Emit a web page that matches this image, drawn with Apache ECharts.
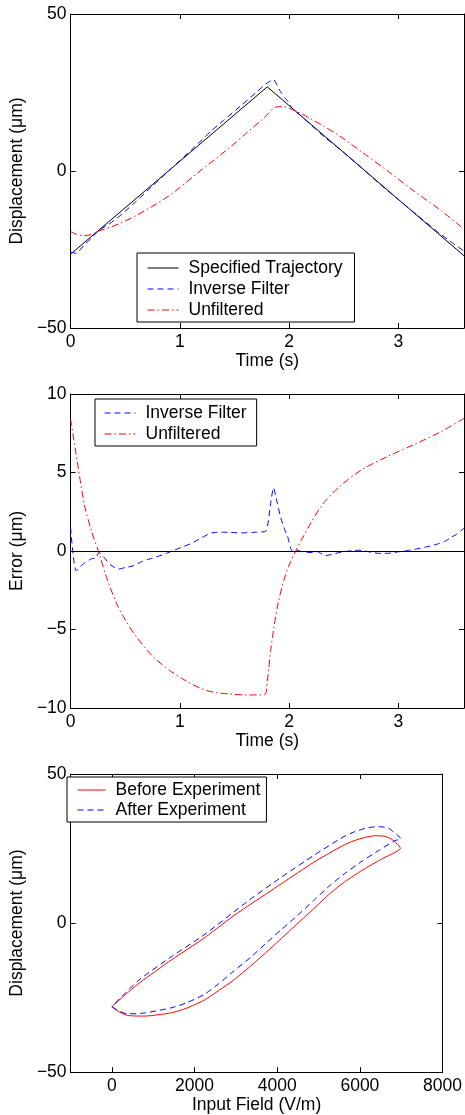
<!DOCTYPE html>
<html>
<head>
<meta charset="utf-8">
<script src="https://cdn.jsdelivr.net/npm/echarts@6/dist/echarts.min.js"></script>
<style>
html,body{margin:0;padding:0;background:#fff;}
#chart{width:465px;height:1115px;}
</style>
</head>
<body>
<div id="chart"></div>
<script>
// ---------- tick labels ----------
const timeTicks = [0, 1, 2, 3];
const dispTicks = [-50, 0, 50];
const errTicks = [-10, -5, 0, 5, 10];
const fieldTicks = [0, 2000, 4000, 6000, 8000];

// ---------- panel 1: displacement vs time ----------
const specTime = [0, 1.8, 3.6];
const specDisp = [-26.5, 26.8, -27.0];

const invTime = [0, 0.05, 0.12, 0.19, 0.26, 0.36, 0.44, 0.57, 0.75, 0.93, 1.11, 1.29, 1.4, 1.56, 1.7, 1.79, 1.857, 1.89, 1.92, 1.96, 1.99, 2.03, 2.12, 2.19, 2.33, 2.49, 2.64, 2.82, 3.0, 3.18, 3.36, 3.48, 3.6];
const invDisp = [-25.8, -26.2, -23.75, -21.4, -18.9, -16.7, -14.6, -10.6, -4.75, 1.05, 6.85, 12.85, 16.15, 20.85, 25.05, 27.8, 29.1, 27.3, 25.3, 23.35, 22.1, 19.9, 17.2, 15.0, 10.65, 6.15, 1.75, -3.85, -9.1, -14.3, -19.4, -22.55, -25.5];

const unfTime = [0, 0.05, 0.126, 0.2, 0.254, 0.425, 0.605, 0.904, 1.174, 1.443, 1.6, 1.773, 1.81, 1.86, 1.9, 1.95, 2.0, 2.06, 2.12, 2.2, 2.31, 2.46, 2.67, 2.91, 3.15, 3.39, 3.6];
const unfDisp = [-19.3, -20.1, -20.6, -20.1, -19.2, -17.1, -14.1, -7.8, -0.3, 7.1, 11.8, 17.0, 18.3, 20.0, 20.5, 20.5, 20.0, 19.0, 18.1, 16.6, 14.4, 11.2, 5.9, -0.2, -6.6, -12.6, -18.5];

// ---------- panel 2: error vs time ----------
const errInvTime = [0, 0.05, 0.12, 0.19, 0.23, 0.26, 0.3, 0.36, 0.44, 0.5, 0.57, 0.66, 0.75, 0.84, 0.93, 1.02, 1.11, 1.2, 1.29, 1.4, 1.56, 1.7, 1.788, 1.83, 1.857, 1.89, 1.923, 1.96, 1.983, 2.028, 2.07, 2.12, 2.19, 2.26, 2.33, 2.4, 2.49, 2.64, 2.73, 2.82, 2.9, 3.0, 3.1, 3.18, 3.28, 3.36, 3.42, 3.48, 3.54, 3.6];
const errInv = [1.5, -1.25, -0.8, -0.5, -0.45, -0.1, -0.35, -0.85, -1.15, -1.05, -0.95, -0.65, -0.45, -0.25, 0, 0.25, 0.5, 0.85, 1.15, 1.2, 1.15, 1.2, 1.27, 3.0, 4.03, 3.1, 2.12, 1.35, 1.0, 0, 0.05, -0.05, -0.1, -0.05, -0.3, -0.2, -0.05, 0.05, -0.05, -0.15, -0.15, -0.05, 0.05, 0.15, 0.3, 0.45, 0.6, 0.85, 1.1, 1.45];

const errUnfTime = [0, 0.051, 0.126, 0.19, 0.254, 0.33, 0.425, 0.51, 0.605, 0.75, 0.904, 1.04, 1.174, 1.31, 1.443, 1.6, 1.773, 1.8, 1.83, 1.86, 1.9, 1.95, 2.0, 2.06, 2.12, 2.2, 2.31, 2.46, 2.67, 2.91, 3.15, 3.39, 3.6];
const errUnf = [8.4, 6.15, 2.97, 1.3, 0, -1.7, -3.4, -4.5, -5.5, -6.7, -7.6, -8.2, -8.7, -9.0, -9.1, -9.17, -9.15, -8.3, -6.4, -4.9, -3.3, -1.9, -0.9, 0, 0.8, 1.8, 3.0, 4.1, 5.2, 6.05, 6.8, 7.6, 8.45];

// ---------- panel 3: displacement vs input field ----------
const beforeField = [0, 150, 352, 600, 820, 1100, 1446, 1800, 2227, 2600, 2931, 3350, 3712, 4100, 4494, 4900, 5276, 5650, 6057, 6500, 6981, 6900, 6761, 6604, 6370, 6057, 5800, 5588, 4885, 4103, 3322, 2931, 2227, 1446, 664, 300, 0];
const beforeDisp = [-28.1, -29.6, -30.9, -31.2, -31.2, -30.8, -30.1, -28.6, -25.9, -22.5, -19.3, -14.5, -10.1, -5.2, -0.1, 5.0, 9.9, 14.0, 17.7, 21.3, 25.1, 26.6, 28.2, 29.1, 29.3, 28.5, 27.3, 26.0, 20.4, 13.2, 6.0, 2.3, -5.1, -12.3, -20.1, -24.3, -28.1];

const afterField = [0, 150, 352, 600, 820, 1100, 1446, 1800, 2227, 2600, 2931, 3350, 3712, 4100, 4494, 4900, 5276, 5650, 6057, 6450, 6838, 7000, 6900, 6838, 6682, 6487, 6300, 6135, 5850, 5588, 4885, 4103, 3322, 2227, 1446, 664, 300, 0];
const afterDisp = [-28.0, -29.3, -30.4, -30.4, -30.1, -29.4, -28.4, -26.8, -24.0, -20.2, -16.3, -11.6, -7.0, -2.2, 2.6, 7.8, 12.6, 16.8, 20.8, 24.3, 27.6, 28.3, 29.6, 30.3, 31.9, 32.3, 32.2, 31.8, 30.5, 28.8, 22.7, 15.4, 7.7, -4.0, -11.2, -19.0, -23.8, -28.0];

// ---------- build ----------
const FONT = 'Liberation Sans, Arial, Helvetica, sans-serif';
const FS = 17.5;
const zip = (xs, ys) => xs.map((x, i) => [x, ys[i]]);
const fmt = v => (v < 0 ? '\u2212' + (-v) : String(v));

const BLUE = '#0000ff', RED = '#ff0000', BLACK = '#000000';
const DASH = [6, 4];
const DASHDOT = [7, 3, 1.5, 3];

function xAxes(g, min, max, ticks, name, nameGap) {
  const base = {
    type: 'value', gridIndex: g, min: min, max: max,
    axisLine: { show: true, onZero: false, lineStyle: { color: BLACK, width: 1 } },
    axisTick: { show: true, inside: true, length: 5, customValues: ticks, lineStyle: { color: BLACK, width: 1 } },
    splitLine: { show: false }
  };
  return [
    Object.assign({}, base, {
      position: 'bottom',
      axisLabel: { show: true, customValues: ticks, formatter: fmt, fontSize: FS, fontFamily: FONT, color: BLACK, margin: 5 },
      name: name, nameLocation: 'middle', nameGap: nameGap,
      nameTextStyle: { fontSize: FS, fontFamily: FONT, color: BLACK }
    }),
    Object.assign({}, base, { position: 'top', axisLabel: { show: false } })
  ];
}
function yAxes(g, min, max, ticks, name, nameGap) {
  const base = {
    type: 'value', gridIndex: g, min: min, max: max,
    axisLine: { show: true, onZero: false, lineStyle: { color: BLACK, width: 1 } },
    axisTick: { show: true, inside: true, length: 5, customValues: ticks, lineStyle: { color: BLACK, width: 1 } },
    splitLine: { show: false }
  };
  return [
    Object.assign({}, base, {
      position: 'left',
      axisLabel: { show: true, customValues: ticks, formatter: fmt, fontSize: FS, fontFamily: FONT, color: BLACK, margin: 4 },
      name: name, nameLocation: 'middle', nameGap: nameGap,
      nameTextStyle: { fontSize: FS, fontFamily: FONT, color: BLACK }
    }),
    Object.assign({}, base, { position: 'right', axisLabel: { show: false } })
  ];
}

function line(name, xi, yi, data, color, type, smooth, z) {
  return {
    type: 'line', name: name, xAxisIndex: xi, yAxisIndex: yi, data: data,
    symbol: 'none', showSymbol: false, smooth: smooth, clip: true,
    lineStyle: { color: color, width: 1, type: type },
    itemStyle: { color: color }, z: z || 2, animation: false, silent: true
  };
}

function legend(names, left, top, itemWidth, itemGap, padding) {
  return {
    data: names, left: left, top: top, orient: 'vertical',
    itemWidth: itemWidth, itemHeight: 14, itemGap: itemGap, padding: padding,
    borderColor: BLACK, borderWidth: 1, borderRadius: 0, backgroundColor: '#fff',
    selectedMode: false,
    itemStyle: { color: 'rgba(0,0,0,0)', borderWidth: 0, opacity: 0 },
    lineStyle: { width: 1 },
    textStyle: { fontSize: FS, fontFamily: FONT, color: BLACK, lineHeight: 17, padding: [0, 0, 0, 5] }
  };
}

const option = {
  backgroundColor: '#fff',
  animation: false,
  grid: [
    { left: 66, top: 14, width: 398, height: 314 },
    { left: 66, top: 394, width: 398, height: 314 },
    { left: 63, top: 774, width: 383, height: 300 }
  ],
  xAxis: [].concat(
    xAxes(0, 0, 3.6, timeTicks, 'Time (s)', 22),
    xAxes(1, 0, 3.6, timeTicks, 'Time (s)', 22),
    xAxes(2, -1000, 8000, fieldTicks, 'Input Field (V/m)', 16)
  ),
  yAxis: [].concat(
    yAxes(0, -50, 50, dispTicks, 'Displacement (\u03bcm)', 33),
    yAxes(1, -10, 10, errTicks, 'Error (\u03bcm)', 33),
    yAxes(2, -50, 50, dispTicks, 'Displacement (\u03bcm)', 31)
  ),
  legend: [
    legend(['Specified Trajectory', 'Inverse Filter', 'Unfiltered'], 137, 253, 31, 3, [6, 12, 3, 10]),
    legend(['Inverse Filter', 'Unfiltered'], 95, 399, 31, 3, [5, 10, 3, 9]),
    legend(['Before Experiment', 'After Experiment'], 67, 777, 28, 2, [4, 6, 3, 10])
  ],
  series: [
    line('Specified Trajectory', 0, 0, zip(specTime, specDisp), BLACK, 'solid', false),
    line('Inverse Filter', 0, 0, zip(invTime, invDisp), BLUE, DASH, 0.2),
    line('Unfiltered', 0, 0, zip(unfTime, unfDisp), RED, DASHDOT, 0.3),

    Object.assign(line('Inverse Filter', 2, 2, zip(errInvTime, errInv), BLUE, DASH, 0.2), {
      markLine: {
        silent: true, symbol: 'none', animation: false,
        label: { show: false },
        lineStyle: { color: BLACK, width: 1, type: 'solid' },
        data: [{ yAxis: 0 }]
      }
    }),
    line('Unfiltered', 2, 2, zip(errUnfTime, errUnf), RED, DASHDOT, 0.3),

    line('Before Experiment', 4, 4, zip(beforeField, beforeDisp), RED, 'solid', 0.2),
    line('After Experiment', 4, 4, zip(afterField, afterDisp), BLUE, DASH, 0.2)
  ]
};

const chart = echarts.init(document.getElementById('chart'), null, { renderer: 'canvas' });
chart.setOption(option);
</script>
</body>
</html>
